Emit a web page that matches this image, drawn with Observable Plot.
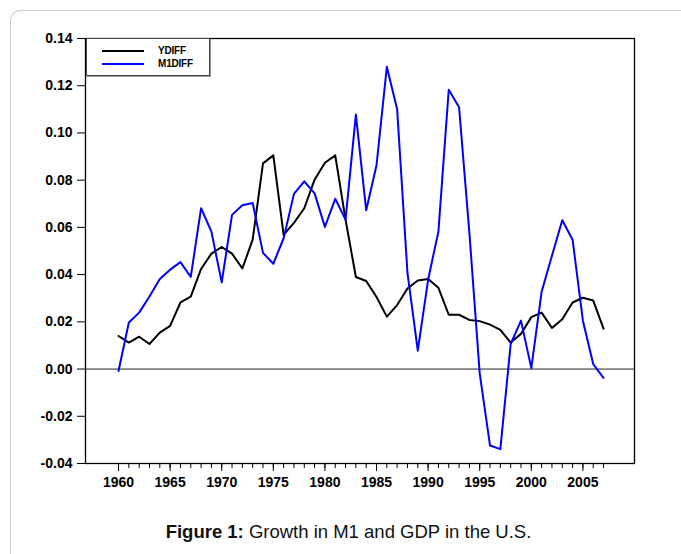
<!DOCTYPE html>
<html>
<head>
<meta charset="utf-8">
<script src="https://cdn.jsdelivr.net/npm/d3@7"></script>
<script src="https://cdn.jsdelivr.net/npm/@observablehq/plot@0.6"></script>
<style>
  html, body { margin: 0; padding: 0; background: #fff; }
  body { width: 681px; height: 554px; position: relative; overflow: hidden; font-family: "Liberation Sans", Arial, sans-serif; }
  #border { position: absolute; left: 10px; top: 10px; width: 700px; height: 600px; border-left: 1.5px solid #c8c8c8; border-top: 1.5px solid #c8c8c8; border-top-left-radius: 10px; }
  #chart { position: absolute; left: 0; top: 0; }
  #legend { position: absolute; left: 86px; top: 38px; width: 122px; height: 36px; background: #fff; border: 1px solid #444; box-shadow: 1px 1px 0 #999; }
  .lg-row { position: absolute; left: 0; height: 12px; width: 122px; }
  .lg-line { position: absolute; left: 15px; width: 42px; top: 5px; height: 2px; }
  .lg-text { position: absolute; left: 71px; top: 0; font-size: 10px; font-weight: bold; line-height: 12px; letter-spacing: -0.2px; }
  #caption { position: absolute; left: 0; width: 697px; top: 521px; text-align: center; font-size: 18.5px; color: #111; }
</style>
</head>
<body>
<div id="border"></div>
<div id="chart"></div>
<div id="legend">
  <div class="lg-row" style="top:6px"><div class="lg-line" style="background:#000"></div><div class="lg-text">YDIFF</div></div>
  <div class="lg-row" style="top:19px"><div class="lg-line" style="background:#0000ff"></div><div class="lg-text">M1DIFF</div></div>
</div>
<div id="caption"><b>Figure 1:</b> Growth in M1 and GDP in the U.S.</div>
<script>
const years = [1960,1961,1962,1963,1964,1965,1966,1967,1968,1969,
               1970,1971,1972,1973,1974,1975,1976,1977,1978,1979,
               1980,1981,1982,1983,1984,1985,1986,1987,1988,1989,
               1990,1991,1992,1993,1994,1995,1996,1997,1998,1999,
               2000,2001,2002,2003,2004,2005,2006,2007];
const ydiff = [0.0140,0.0112,0.0137,0.0106,0.0154,0.0183,0.0282,0.0307,0.0424,0.0489,
               0.0517,0.0489,0.0426,0.0548,0.0871,0.0905,0.0568,0.0619,0.0681,0.0802,
               0.0874,0.0905,0.0633,0.0390,0.0373,0.0305,0.0222,0.0271,0.0341,0.0375,
               0.0381,0.0344,0.0230,0.0230,0.0208,0.0203,0.0188,0.0166,0.0112,0.0149,
               0.0220,0.0239,0.0174,0.0211,0.0282,0.0302,0.0290,0.0171];
const m1diff = [-0.0008,0.0197,0.0239,0.0307,0.0381,0.0421,0.0453,0.0390,0.0681,0.0582,
                0.0367,0.0653,0.0694,0.0703,0.0492,0.0446,0.0554,0.0742,0.0795,0.0744,
                0.0602,0.0721,0.0633,0.1078,0.0673,0.0863,0.1280,0.1100,0.0407,0.0078,
                0.0378,0.0583,0.1183,0.1109,0.0577,-0.0018,-0.0324,-0.0339,0.0106,0.0205,
                0.0004,0.0327,0.0480,0.0630,0.0548,0.0205,0.0021,-0.0038];
const yTicks = [-0.04,-0.02,0.00,0.02,0.04,0.06,0.08,0.10,0.12,0.14];
const xTicks = [1960,1965,1970,1975,1980,1985,1990,1995,2000,2005];
const xMinor = years;

const rows = years.map((yr, i) => ({year: yr, ydiff: ydiff[i], m1diff: m1diff[i]}));

const chart = Plot.plot({
  width: 681,
  height: 500,
  marginLeft: 85,
  marginRight: 47,
  marginTop: 38,
  marginBottom: 37,
  style: {fontFamily: "'Liberation Sans', Arial, sans-serif", fontSize: "14px", fontWeight: "bold", color: "#000", background: "transparent"},
  x: {domain: [1956.8, 2010], label: null},
  y: {domain: [-0.04, 0.14], label: null},
  marks: [
    Plot.ruleY([0], {stroke: "#222", strokeWidth: 1}),
    Plot.lineY(rows, {x: "year", y: "ydiff", stroke: "#000", strokeWidth: 2}),
    Plot.lineY(rows, {x: "year", y: "m1diff", stroke: "#0000ff", strokeWidth: 2}),
    Plot.frame({stroke: "#000", strokeWidth: 1.3}),
    Plot.axisY({ticks: yTicks, tickSize: 8, tickPadding: 5, tickFormat: d => d.toFixed(2), label: null, stroke: "#000"}),
    Plot.axisX({ticks: xMinor, tickSize: 5, tickFormat: () => "", label: null, stroke: "#000"}),
    Plot.axisX({ticks: xTicks, tickSize: 8, tickPadding: 6, tickFormat: d => String(d), label: null, stroke: "#000"})
  ]
});
document.getElementById("chart").appendChild(chart);
</script>
</body>
</html>
